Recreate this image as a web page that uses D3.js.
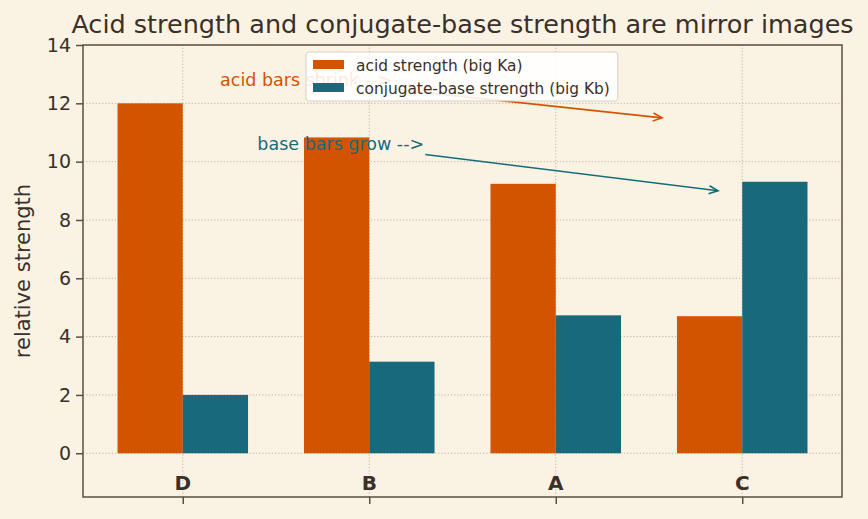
<!DOCTYPE html>
<html>
<head>
<meta charset="utf-8">
<script src="https://cdnjs.cloudflare.com/ajax/libs/d3/7.8.5/d3.min.js"></script>
<style>
body { margin: 0; background: #faf3e3; }
text { font-family: 'DejaVu Sans', sans-serif; fill: #3b3029; }
</style>
</head>
<body>
<div id="chart"></div>
<script>
var width = 868;
var height = 519;

// data
var categories = ['D', 'B', 'A', 'C'];
var acid_strength = [12.0, 10.83, 9.24, 4.70];
var base_strength = [2.0, 3.14, 4.73, 9.31];
var y_ticks = [0, 2, 4, 6, 8, 10, 12, 14];
var series_names = ['acid strength (big Ka)', 'conjugate-base strength (big Kb)'];

// annotations: text anchor and arrow target, both in data units
var note_text = ['acid bars shrink -->', 'base bars grow -->'];
var note_xy = [[0.2, 12.6], [0.4, 10.4]];
var note_target = [[2.57, 11.5], [2.87, 9.0]];

var colors = ['#d35400', '#186a7b'];
var bar_w = 0.35;

var margin = {left: 83, right: 26, top: 45, bottom: 22};

var svg = d3.select('#chart').append('svg')
    .attr('width', width).attr('height', height);

svg.append('rect').attr('width', width).attr('height', height).attr('fill', '#faf3e3');

var x = d3.scaleLinear().domain([-0.535, categories.length - 1 + 0.535])
    .range([margin.left, width - margin.right]);
var y = d3.scaleLinear().domain([-1.5, 14])
    .range([height - margin.bottom, margin.top]);

var plot = svg.append('g').attr('class', 'plot');

//grid lines
plot.selectAll('.hgrid').data(y_ticks).enter().append('line')
    .attr('class', 'hgrid')
    .attr('x1', x.range()[0]).attr('x2', x.range()[1])
    .attr('y1', d => y(d)).attr('y2', d => y(d))
    .attr('stroke', '#b9ad9c').attr('stroke-width', 0.9)
    .attr('stroke-dasharray', '1.2,2');

plot.selectAll('.vgrid').data(categories).enter().append('line')
    .attr('class', 'vgrid')
    .attr('x1', (d, i) => x(i)).attr('x2', (d, i) => x(i))
    .attr('y1', y.range()[0]).attr('y2', y.range()[1])
    .attr('stroke', '#b9ad9c').attr('stroke-width', 0.9)
    .attr('stroke-dasharray', '1.2,2');

//bars
plot.selectAll('.acid').data(acid_strength).enter().append('rect')
    .attr('class', 'acid')
    .attr('x', (d, i) => x(i - bar_w))
    .attr('width', (d, i) => x(i) - x(i - bar_w))
    .attr('y', d => y(d))
    .attr('height', d => y(0) - y(d))
    .attr('fill', colors[0]);

plot.selectAll('.base').data(base_strength).enter().append('rect')
    .attr('class', 'base')
    .attr('x', (d, i) => x(i))
    .attr('width', (d, i) => x(i + bar_w) - x(i))
    .attr('y', d => y(d))
    .attr('height', d => y(0) - y(d))
    .attr('fill', colors[1]);

//axes
var yAxis = svg.append('g')
    .attr('transform', `translate(${margin.left},0)`)
    .call(d3.axisLeft(y).tickValues(y_ticks).tickSize(7).tickPadding(5));
yAxis.select('.domain').remove();
yAxis.selectAll('line').attr('stroke', '#5b4f45').attr('stroke-width', 1.5);
yAxis.selectAll('text').style('font-size', '19px').style('font-family', 'DejaVu Sans').attr('fill', '#3b3029');

var xAxis = svg.append('g')
    .attr('transform', `translate(0,${height - margin.bottom})`)
    .call(d3.axisBottom(x).tickValues(d3.range(categories.length)).tickSize(7).tickFormat(''));
xAxis.select('.domain').remove();
xAxis.selectAll('line').attr('stroke', '#5b4f45').attr('stroke-width', 1.5);

// category names sit inside the axes, above the bottom spine
svg.selectAll('.cat').data(categories).enter().append('text')
    .attr('class', 'cat')
    .attr('x', (d, i) => x(i))
    .attr('y', y(-1.5) - 7)
    .attr('text-anchor', 'middle')
    .style('font-size', '20px')
    .style('font-weight', 'bold')
    .text(d => d);

//frame
svg.append('rect')
    .attr('x', x.range()[0]).attr('y', y.range()[1])
    .attr('width', x.range()[1] - x.range()[0])
    .attr('height', y.range()[0] - y.range()[1])
    .attr('fill', 'none').attr('stroke', '#5b4f45').attr('stroke-width', 1.5);

//title and axis label
svg.append('text')
    .attr('x', (x.range()[0] + x.range()[1]) / 2)
    .attr('y', 33)
    .attr('text-anchor', 'middle')
    .style('font-size', '25.5px')
    .text('Acid strength and conjugate-base strength are mirror images');

svg.append('text')
    .attr('transform', `translate(30,${(y.range()[0] + y.range()[1]) / 2}) rotate(-90)`)
    .attr('text-anchor', 'middle')
    .style('font-size', '21px')
    .text('relative strength');

//annotations with arrows
var notes = svg.append('g').attr('class', 'notes');
for (var k = 0; k < note_text.length; k++) {
    var t = notes.append('text')
        .attr('x', x(note_xy[k][0]))
        .attr('y', y(note_xy[k][1]))
        .style('font-size', '17.5px')
        .style('fill', colors[k])
        .text(note_text[k]);

    var bb = t.node().getBBox();
    var cx = bb.x + bb.width / 2, cy = bb.y + bb.height / 2;
    var tx = x(note_target[k][0]), ty = y(note_target[k][1]);
    var dx = tx - cx, dy = ty - cy;
    // leave the text box along the line to the target
    var s = Math.min((bb.width / 2) / Math.abs(dx), (bb.height / 2) / Math.abs(dy));
    var len = Math.sqrt(dx * dx + dy * dy);
    var ux = dx / len, uy = dy / len;
    var sx = cx + dx * s + ux * 4, sy = cy + dy * s + uy * 4;

    notes.append('line')
        .attr('x1', sx).attr('y1', sy).attr('x2', tx).attr('y2', ty)
        .attr('stroke', colors[k]).attr('stroke-width', 1.6);

    var hl = 9, hw = 4;
    var head = `M${tx - ux * hl - uy * hw},${ty - uy * hl + ux * hw} L${tx},${ty} L${tx - ux * hl + uy * hw},${ty - uy * hl - ux * hw}`;
    notes.append('path')
        .attr('d', head)
        .attr('fill', 'none')
        .attr('stroke', colors[k]).attr('stroke-width', 1.6);
}

//legend
var lg = svg.append('g').attr('class', 'legend').attr('transform', 'translate(306,52)');
var lgBox = lg.append('rect')
    .attr('x', 0).attr('y', 0).attr('rx', 3).attr('ry', 3)
    .attr('height', 49)
    .attr('fill', 'white').attr('fill-opacity', 0.88)
    .attr('stroke', '#d6d0c6').attr('stroke-width', 1);

var maxLen = 0;
series_names.forEach(function(name, i) {
    lg.append('rect')
        .attr('x', 7).attr('y', 8 + i * 23)
        .attr('width', 31).attr('height', 9)
        .attr('fill', colors[i]);
    var lt = lg.append('text')
        .attr('x', 50).attr('y', 19 + i * 23)
        .style('font-size', '15.4px')
        .text(name);
    maxLen = Math.max(maxLen, lt.node().getComputedTextLength());
});
lgBox.attr('width', 50 + maxLen + 8);
</script>
</body>
</html>
